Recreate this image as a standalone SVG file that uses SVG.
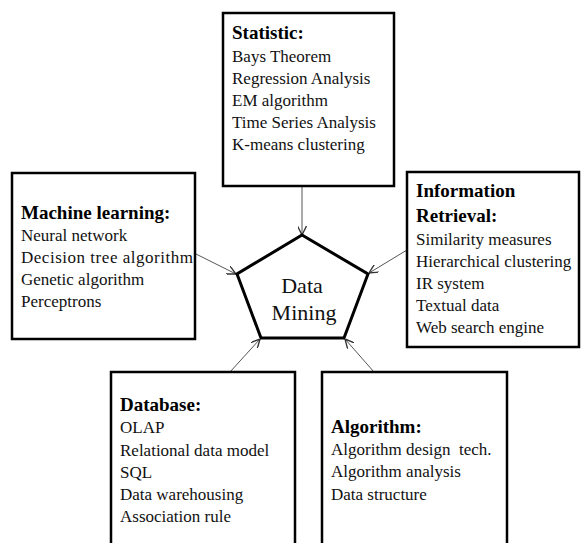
<svg xmlns="http://www.w3.org/2000/svg" width="581" height="543" viewBox="0 0 581 543">
  <style>
    .box { fill: #fff; stroke: #000; stroke-width: 2.5; }
    .pent { fill: #fff; stroke: #000; stroke-width: 3; stroke-linejoin: miter; }
    .title { font-family: "Liberation Serif", "Times New Roman", serif; font-size: 19px; font-weight: bold; fill: #000; }
    .item { font-family: "Liberation Serif", "Times New Roman", serif; font-size: 17px; fill: #111; }
    .center { font-family: "Liberation Serif", "Times New Roman", serif; font-size: 22px; fill: #111; text-anchor: middle; }
    .conn { stroke: #555; stroke-width: 1; fill: none; marker-end: url(#arrow); }
  </style>
  <defs>
    <marker id="arrow" viewBox="0 0 10 10" refX="10" refY="5" markerWidth="9" markerHeight="9" markerUnits="userSpaceOnUse" orient="auto">
      <path d="M0,0 L10,5 L0,10" fill="none" stroke="#333" stroke-width="1.5"/>
    </marker>
  </defs>
  <rect width="581" height="543" fill="#fff"/>

  <g id="connectors">
    <line class="conn" x1="302" y1="186" x2="302" y2="235"/>
    <line class="conn" x1="196" y1="254" x2="236" y2="274"/>
    <line class="conn" x1="407" y1="250" x2="369" y2="273"/>
    <line class="conn" x1="230" y1="372" x2="260" y2="339"/>
    <line class="conn" x1="374" y1="372" x2="345" y2="339"/>
  </g>

  <g id="data-mining">
    <polygon class="pent" points="302,235 368,274 344,338 261,338 237,274"/>
    <text class="center" x="302" y="293">Data</text>
    <text class="center" x="304" y="320">Mining</text>
  </g>

  <g id="statistic">
    <rect class="box" x="223" y="13" width="171" height="173"/>
    <text class="title" x="232" y="39">Statistic:</text>
    <text class="item" x="232" y="62">Bays Theorem</text>
    <text class="item" x="232" y="84">Regression Analysis</text>
    <text class="item" x="232" y="106">EM algorithm</text>
    <text class="item" x="232" y="128">Time Series Analysis</text>
    <text class="item" x="232" y="150">K-means clustering</text>
  </g>

  <g id="machine-learning">
    <rect class="box" x="12" y="173" width="183" height="166"/>
    <text class="title" x="21" y="219">Machine learning:</text>
    <text class="item" x="21" y="241">Neural network</text>
    <text class="item" x="21" y="263" textLength="172" lengthAdjust="spacing">Decision tree algorithm</text>
    <text class="item" x="21" y="285">Genetic algorithm</text>
    <text class="item" x="21" y="307">Perceptrons</text>
  </g>

  <g id="information-retrieval">
    <rect class="box" x="407" y="172" width="172" height="175"/>
    <text class="title" x="416" y="197">Information</text>
    <text class="title" x="416" y="222">Retrieval:</text>
    <text class="item" x="416" y="245">Similarity measures</text>
    <text class="item" x="416" y="267">Hierarchical clustering</text>
    <text class="item" x="416" y="289">IR system</text>
    <text class="item" x="416" y="311">Textual data</text>
    <text class="item" x="416" y="333">Web search engine</text>
  </g>

  <g id="database">
    <rect class="box" x="111" y="372" width="184" height="180"/>
    <text class="title" x="120" y="411">Database:</text>
    <text class="item" x="120" y="433">OLAP</text>
    <text class="item" x="120" y="456">Relational data model</text>
    <text class="item" x="120" y="478">SQL</text>
    <text class="item" x="120" y="500">Data warehousing</text>
    <text class="item" x="120" y="522">Association rule</text>
  </g>

  <g id="algorithm">
    <rect class="box" x="322" y="372" width="185" height="180"/>
    <text class="title" x="331" y="433">Algorithm:</text>
    <text class="item" x="331" y="455" xml:space="preserve">Algorithm design  tech.</text>
    <text class="item" x="331" y="477">Algorithm analysis</text>
    <text class="item" x="331" y="500">Data structure</text>
  </g>
</svg>
